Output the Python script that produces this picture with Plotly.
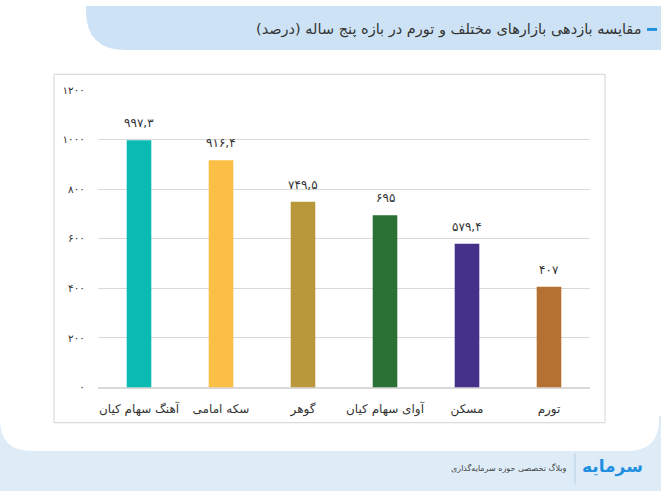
import plotly.graph_objects as go

categories = ["آهنگ سهام کیان", "سکه امامی", "گوهر", "آوای سهام کیان", "مسکن", "تورم"]
values = [997.3, 916.4, 749.5, 695, 579.4, 407]
value_labels = ["۹۹۷,۳", "۹۱۶,۴", "۷۴۹,۵", "۶۹۵", "۵۷۹,۴", "۴۰۷"]
colors = ["#0bbab3", "#fbbf45", "#b8983a", "#2b7035", "#45318a", "#b57131"]
y_ticks = [0, 200, 400, 600, 800, 1000, 1200]
y_tick_labels = ["۰", "۲۰۰", "۴۰۰", "۶۰۰", "۸۰۰", "۱۰۰۰", "۱۲۰۰"]
title = "مقایسه بازدهی بازارهای مختلف و تورم در بازه پنج ساله (درصد)"
footer = "وبلاگ تخصصی حوزه سرمایه‌گذاری"
logo = "سرمایه"

W, H = 661, 499
FONT = "DejaVu Sans, Noto Sans, sans-serif"

def px(x):
    return x / W

def py(y):
    return 1 - y / H

fig = go.Figure()
fig.add_trace(go.Bar(x=categories, y=values, marker=dict(color=colors, line=dict(width=0)),
                     width=0.3, hoverinfo="skip"))

shapes = []
# footer band
shapes.append(dict(type="rect", xref="paper", yref="paper", x0=0, x1=1, y0=py(497), y1=py(420),
                   fillcolor="#deecf8", line=dict(width=0), layer="below"))
# white card with rounded bottom corners
r = 32
def P(x, y):
    return f"{px(x)},{py(y)}"
card = (f"M {P(0,40)} L {P(659,40)} L {P(659,456-r)} Q {P(659,456)} {P(659-r,456)} "
        f"L {P(r,456)} Q {P(0,456)} {P(0,456-r)} Z")
shapes.append(dict(type="path", xref="paper", yref="paper", path=card, fillcolor="white",
                   line=dict(width=0), layer="below"))
# header tab
rh = 40
hdr = (f"M {P(86,0)} L {P(661,0)} L {P(661,45)} L {P(86+rh,45)} Q {P(86,45)} {P(86,45-rh)} Z")
shapes.append(dict(type="path", xref="paper", yref="paper", path=hdr, fillcolor="#cde3f5",
                   line=dict(width=0), layer="below"))
# title marker
shapes.append(dict(type="rect", xref="paper", yref="paper", x0=px(647), x1=px(657), y0=py(25.5), y1=py(22.5),
                   fillcolor="#1f8fe0", line=dict(width=0)))
# chart frame
shapes.append(dict(type="rect", xref="paper", yref="paper", x0=px(54), x1=px(605), y0=py(427), y1=py(70),
                   fillcolor="rgba(0,0,0,0)", line=dict(color="#d4d4d4", width=1), layer="below"))
# footer separator
shapes.append(dict(type="line", xref="paper", yref="paper", x0=px(575), x1=px(575), y0=py(458), y1=py(490),
                   line=dict(color="#b8cfe2", width=1)))
fig.update_layout(shapes=shapes)

annotations = []
for c, v, t in zip(categories, values, value_labels):
    annotations.append(dict(x=c, y=v, xref="x", yref="y", text=t, showarrow=False,
                            yanchor="bottom", yshift=8, font=dict(family=FONT, size=12, color="#333")))
annotations.append(dict(x=px(643), y=py(24), xref="paper", yref="paper", text=title, showarrow=False,
                        xanchor="right", yanchor="middle", font=dict(family=FONT, size=14.5, color="#333")))
annotations.append(dict(x=px(569), y=py(473), xref="paper", yref="paper", text=footer, showarrow=False,
                        xanchor="right", yanchor="middle", font=dict(family=FONT, size=8, color="#444")))
annotations.append(dict(x=px(612), y=py(472), xref="paper", yref="paper", text=f"<b>{logo}</b>", showarrow=False,
                        xanchor="center", yanchor="middle", font=dict(family=FONT, size=17, color="#1f8fe0")))
fig.update_layout(annotations=annotations)

fig.update_layout(
    width=W, height=H,
    margin=dict(l=0, r=0, t=0, b=0),
    paper_bgcolor="white", plot_bgcolor="rgba(0,0,0,0)",
    showlegend=False,
    xaxis=dict(domain=[px(98), px(590)], showgrid=False, showline=False, zeroline=False,
               ticks="", ticklabelstandoff=12, fixedrange=True,
               tickfont=dict(family=FONT, size=12, color="#333")),
    yaxis=dict(domain=[py(391), py(86)], range=[0, 1200], tickvals=y_ticks, ticktext=y_tick_labels,
               showgrid=True, gridcolor="#d9d9d9", gridwidth=1, zeroline=True, zerolinecolor="#d9d9d9",
               showline=False, ticks="", ticklabelstandoff=12,
               tickfont=dict(family=FONT, size=10.5, color="#333")),
)

fig.write_html("out.html")
